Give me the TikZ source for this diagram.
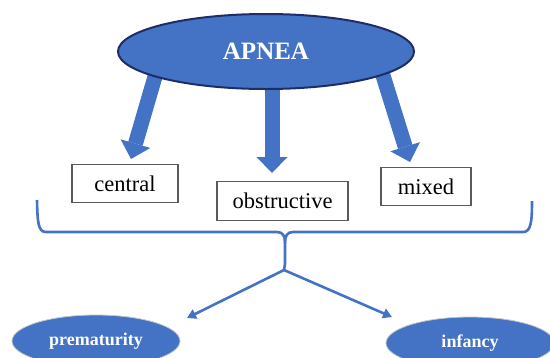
\documentclass[tikz,border=0pt]{standalone}
\usepackage{fontspec}
\setmainfont{Liberation Serif}
\usetikzlibrary{shapes.geometric,arrows.meta}
\definecolor{blu}{HTML}{4472C4}
\definecolor{navy}{HTML}{1F2D66}
\definecolor{boxline}{HTML}{5A5A5A}
\tikzset{
  topell/.style={ellipse, fill=blu, draw=navy, line width=2pt, minimum width=296pt, minimum height=75pt, inner sep=0pt, text=white, font=\fontsize{25}{28}\selectfont\bfseries},
  botell/.style={ellipse, fill=blu, draw=gray!45, line width=0.8pt, minimum width=168pt, minimum height=52pt, inner sep=0pt, text=white, font=\fontsize{18}{20}\selectfont\bfseries},
  typebox/.style={draw=boxline, line width=1.1pt, fill=white, minimum height=38.5pt, inner sep=0pt, font=\fontsize{22.5}{25}\selectfont},
  blockarrow/.style={draw=blu, line width=15pt, line cap=butt, -{Triangle[length=16pt,width=31pt,fill=blu,line width=0pt]}},
  thinarrow/.style={blu, line width=2.6pt, -{Triangle[length=9pt,width=10pt]}},
  bracestyle/.style={blu, line width=2.6pt, line join=round}
}
\begin{document}
\begin{tikzpicture}[x=1pt,y=-1pt]
\useasboundingbox (0,0) rectangle (550,357);
\clip (0,0) rectangle (550,357);
% arrow coordinates
\coordinate (s1) at (161,56);
\coordinate (t1) at (131,159);
\coordinate (s2) at (272,60);
\coordinate (t2) at (272,173);
\coordinate (s3) at (376,53);
\coordinate (t3) at (410,162);
\draw[blockarrow] (s1) -- (t1);
\draw[blockarrow] (s2) -- (t2);
\draw[blockarrow] (s3) -- (t3);
% top ellipse
\node[topell] (apnea) at (266,51.5) {APNEA};
% boxes
\node[typebox, minimum width=106pt] (central) at (125,183.5) {central};
\node[typebox, minimum width=131pt] (obstr) at (282.5,201) {obstructive};
\node[typebox, minimum width=90pt] (mixed) at (426,186.5) {mixed};
% brace
\coordinate (bl) at (37,200);
\coordinate (br) at (532,201);
\coordinate (btip) at (285,264);
\draw[bracestyle] (bl) .. controls (37.5,222) and (38,232) .. (46,232) -- (277,232)
  .. controls (283,232) and (285,236) .. (285,243) -- (btip);
\draw[bracestyle] (br) .. controls (532,222) and (531,232) .. (523,232) -- (293,232)
  .. controls (287,232) and (285,236) .. (285,243);
% bottom
\coordinate (junc) at (284,270);
\coordinate (lt) at (187,318);
\coordinate (rt) at (392,317);
\draw[bracestyle] (btip) -- (junc);
\draw[thinarrow] (junc) -- (lt);
\draw[thinarrow] (junc) -- (rt);
\node[botell] (prem) at (96,341) {prematurity};
\node[botell] (inf) at (470,343) {infancy};
\end{tikzpicture}
\end{document}
